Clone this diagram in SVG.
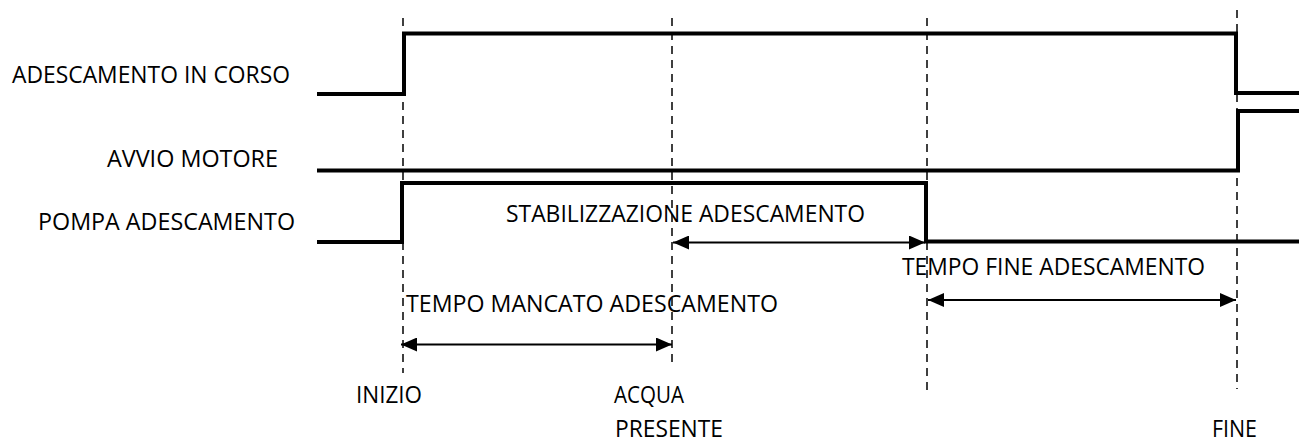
<svg xmlns="http://www.w3.org/2000/svg" width="1299" height="443" viewBox="0 0 1299 443">
<style>
.sig{fill:none;stroke:#000;stroke-width:4;stroke-linejoin:miter}
.dash{fill:none;stroke:#000;stroke-width:1.5;stroke-dasharray:8 6}
.arr{fill:none;stroke:#000;stroke-width:2}
text{font-family:"Open Sans","Liberation Sans",sans-serif;font-size:23px;fill:#000}
</style>
<defs>
<marker id="ah" viewBox="0 0 16 14" refX="16" refY="7" markerWidth="16" markerHeight="14" markerUnits="userSpaceOnUse" orient="auto-start-reverse">
<path d="M0,0 L16,7 L0,14 Z" fill="#000"/>
</marker>
</defs>
<rect width="1299" height="443" fill="#fff"/>
<g id="guides">
<line class="dash" x1="403" y1="18" x2="403" y2="373"/>
<line class="dash" x1="672" y1="18" x2="672" y2="363"/>
<line class="dash" x1="927" y1="18" x2="927" y2="390"/>
<line class="dash" x1="1237" y1="10" x2="1237" y2="389"/>
</g>
<g id="signal-adescamento">
<polyline class="sig" points="317,94 404,94 404,33.5 1236,33.5 1236,93 1299,93"/>
<text x="12" y="83" textLength="278" lengthAdjust="spacingAndGlyphs">ADESCAMENTO IN CORSO</text>
</g>
<g id="signal-avvio">
<polyline class="sig" points="317,170.5 1238,170.5 1238,111 1299,111"/>
<text x="107" y="167" textLength="171" lengthAdjust="spacingAndGlyphs">AVVIO MOTORE</text>
</g>
<g id="signal-pompa">
<polyline class="sig" points="317,242 402,242 402,183 926,183 926,241.5 1299,241.5"/>
<text x="38" y="230" textLength="257" lengthAdjust="spacingAndGlyphs">POMPA ADESCAMENTO</text>
</g>
<g id="connectors">
<line class="arr" x1="673" y1="242.5" x2="925" y2="242.5" marker-start="url(#ah)" marker-end="url(#ah)"/>
<line class="arr" x1="401" y1="344.5" x2="672" y2="344.5" marker-start="url(#ah)" marker-end="url(#ah)"/>
<line class="arr" x1="928" y1="300" x2="1236" y2="300" marker-start="url(#ah)" marker-end="url(#ah)"/>
</g>
<g id="labels">
<text x="506" y="222" textLength="359" lengthAdjust="spacingAndGlyphs">STABILIZZAZIONE ADESCAMENTO</text>
<text x="406" y="311.5" textLength="372" lengthAdjust="spacingAndGlyphs">TEMPO MANCATO ADESCAMENTO</text>
<text x="902" y="275" textLength="303" lengthAdjust="spacingAndGlyphs">TEMPO FINE ADESCAMENTO</text>
<text x="356" y="403" textLength="66" lengthAdjust="spacingAndGlyphs">INIZIO</text>
<text x="614" y="403" textLength="70" lengthAdjust="spacingAndGlyphs">ACQUA</text>
<text x="615" y="436.5" textLength="108" lengthAdjust="spacingAndGlyphs">PRESENTE</text>
<text x="1212" y="437" textLength="45" lengthAdjust="spacingAndGlyphs">FINE</text>
</g>
</svg>
